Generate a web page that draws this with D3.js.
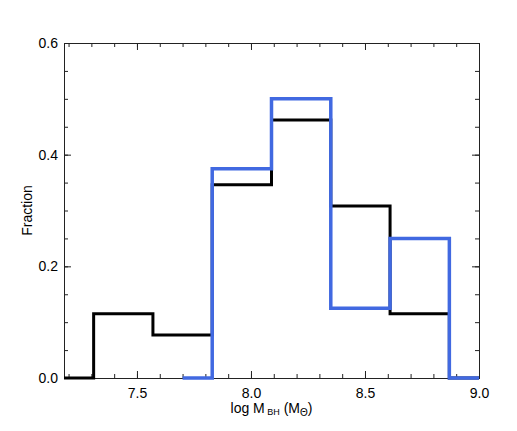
<!DOCTYPE html>
<html>
<head>
<meta charset="utf-8">
<script src="https://cdn.jsdelivr.net/npm/d3@7"></script>
<style>
  body { margin: 0; background: #fff; }
  text { font-family: "Liberation Sans", Arial, Helvetica, sans-serif; }
</style>
</head>
<body>
<div id="chart"></div>
<script>
// bin centres (log M_BH) and fractions
const blackCenters = [7.18, 7.44, 7.70, 7.96, 8.22, 8.48, 8.74, 9.00];
const blackFrac = [0, 0.115, 0.077, 0.346, 0.462, 0.308, 0.115, 0];
const blueCenters = [7.70, 7.96, 8.22, 8.48, 8.74, 9.00];
const blueFrac = [0, 0.375, 0.50, 0.125, 0.25, 0];

const xMajor = [7.5, 8.0, 8.5, 9.0];
const xMinor = d3.range(7.2, 9.001, 0.1);
const yMajor = [0.0, 0.2, 0.4, 0.6];
const yMinor = d3.range(0, 0.6001, 0.05);

const width = 517, height = 431;
const margin = {left: 64, top: 43, right: 38, bottom: 53};

const svg = d3.select("#chart").append("svg")
    .attr("width", width)
    .attr("height", height);

const x = d3.scaleLinear().domain([7.18, 9.0]).range([margin.left, width - margin.right]);
const y = d3.scaleLinear().domain([0, 0.6]).range([height - margin.bottom, margin.top]);

const fmt = d3.format(".1f");

function drawAxis(axis, transform, labels) {
    const g = svg.append("g").attr("transform", transform).call(axis);
    g.select(".domain").attr("stroke", "#222").attr("stroke-width", 1);
    g.selectAll(".tick line").attr("stroke", "#222");
    g.selectAll("text").style("font-size", "14px").attr("fill", "#000");
    if (!labels) g.selectAll("text").remove();
    return g;
}

// minor ticks
drawAxis(d3.axisBottom(x).tickValues(xMinor).tickSize(-4).tickFormat(""), `translate(0,${y(0)})`, false);
drawAxis(d3.axisTop(x).tickValues(xMinor).tickSize(-4).tickFormat(""), `translate(0,${y(0.6)})`, false);
drawAxis(d3.axisLeft(y).tickValues(yMinor).tickSize(-4).tickFormat(""), `translate(${x(7.18)},0)`, false);
drawAxis(d3.axisRight(y).tickValues(yMinor).tickSize(-4).tickFormat(""), `translate(${x(9.0)},0)`, false);

// major ticks
drawAxis(d3.axisBottom(x).tickValues(xMajor).tickSize(-7).tickPadding(10).tickFormat(fmt), `translate(0,${y(0)})`, true);
drawAxis(d3.axisTop(x).tickValues(xMajor).tickSize(-7).tickFormat(""), `translate(0,${y(0.6)})`, false);
drawAxis(d3.axisLeft(y).tickValues(yMajor).tickSize(-7).tickPadding(6).tickFormat(fmt), `translate(${x(7.18)},0)`, true);
drawAxis(d3.axisRight(y).tickValues(yMajor).tickSize(-7).tickFormat(""), `translate(${x(9.0)},0)`, false);

const line = d3.line()
    .x(d => x(d[0]))
    .y(d => y(d[1]))
    .curve(d3.curveStep);

svg.append("path")
    .datum(d3.zip(blackCenters, blackFrac))
    .attr("d", line)
    .attr("fill", "none")
    .attr("stroke", "#000")
    .attr("stroke-width", 3);

svg.append("path")
    .datum(d3.zip(blueCenters, blueFrac))
    .attr("d", line)
    .attr("fill", "none")
    .attr("stroke", "#4169e1")
    .attr("stroke-width", 3.5);

// axis titles
const xt = svg.append("text")
    .attr("x", (x(7.18) + x(9.0)) / 2)
    .attr("y", 413)
    .attr("text-anchor", "middle")
    .style("font-size", "14px");
xt.append("tspan").text("log M");
xt.append("tspan").attr("dy", 2).style("font-size", "9px").text(" BH");
xt.append("tspan").attr("dy", -2).text(" (M");
xt.append("tspan").attr("dy", 3).style("font-size", "10px").text("\u0398");
xt.append("tspan").attr("dy", -3).text(")");

svg.append("text")
    .attr("transform", `translate(32,${(y(0) + y(0.6)) / 2}) rotate(-90)`)
    .attr("text-anchor", "middle")
    .style("font-size", "14px")
    .text("Fraction");
</script>
</body>
</html>
